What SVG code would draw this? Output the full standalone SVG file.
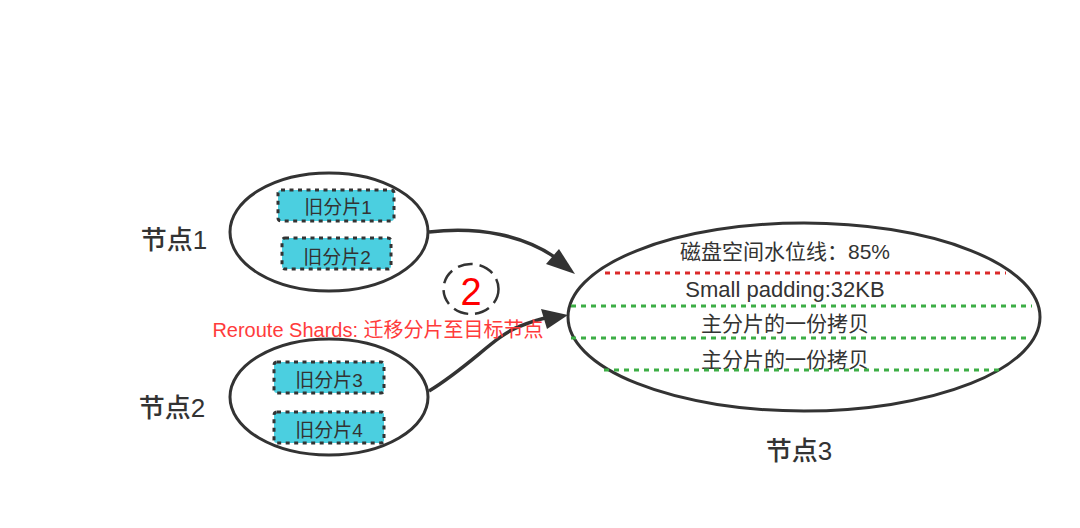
<svg xmlns="http://www.w3.org/2000/svg" width="1080" height="528" viewBox="0 0 1080 528">
<style>
text{font-family:"Liberation Sans","Noto Sans CJK SC",sans-serif;fill:#333;text-anchor:middle}
.ell{fill:#fff;stroke:#333;stroke-width:3}
.shard{fill:#4bcfe0;stroke:#333;stroke-width:3;stroke-dasharray:4 4.5}
.s{font-size:19px}
.n{font-size:26px;font-weight:500}
.l{font-size:21px}
.conn{fill:none;stroke:#333;stroke-width:3.5}
.ah{fill:#333}
.g{stroke:#3cae45;stroke-width:3;stroke-dasharray:5 5;fill:none}
.r{stroke:#dc2a2a;stroke-width:3;stroke-dasharray:5 5;fill:none}
</style>
<rect width="1080" height="528" fill="#fff"/>
<g id="node1">
<ellipse class="ell" cx="329" cy="232" rx="99" ry="59"/>
<rect class="shard" x="278" y="190" width="116" height="31" rx="3"/>
<text class="s" x="338" y="214">旧分片1</text>
<rect class="shard" x="282" y="238" width="109" height="31" rx="3"/>
<text class="s" x="337" y="264">旧分片2</text>
<text class="n" x="174" y="249">节点1</text>
</g>
<g id="node2">
<ellipse class="ell" cx="329" cy="397" rx="99" ry="58"/>
<rect class="shard" x="274" y="362" width="110" height="31" rx="3"/>
<text class="s" x="329" y="387">旧分片3</text>
<rect class="shard" x="274" y="412" width="110" height="31" rx="3"/>
<text class="s" x="329" y="437">旧分片4</text>
<text class="n" x="172" y="417">节点2</text>
</g>
<g id="node3">
<ellipse class="ell" cx="804" cy="317" rx="236" ry="94"/>
<text class="l" x="785" y="259">磁盘空间水位线：85%</text>
<path class="r" d="M605 273H1006"/>
<text class="l" x="785" y="297" style="font-size:22px">Small padding:32KB</text>
<path class="g" d="M571 306H1032"/>
<text class="l" x="785" y="331">主分片的一份拷贝</text>
<path class="g" d="M571 338H1030"/>
<text class="l" x="785" y="367">主分片的一份拷贝</text>
<path class="g" d="M604 370H1002"/>
<text class="n" x="799" y="460">节点3</text>
</g>
<g id="badge">
<ellipse cx="471" cy="289" rx="27.5" ry="25" fill="#fff" stroke="#333" stroke-width="2.5" stroke-dasharray="15 7"/>
<text x="471" y="305" font-size="38" style="fill:#f00">2</text>
</g>
<g id="connectors">
<path class="conn" d="M429 232C480 226 525 236 556 258"/>
<path class="ah" d="M575 274L546 264L559 249Z"/>
<path class="conn" d="M429 391C470 366 495 336 518 327C530 322 540 319 550 317"/>
<path class="ah" d="M568 315L541 309L547 329Z"/>
</g>
<text x="378" y="337" font-size="20" style="fill:#ff3b3b">Reroute Shards: 迁移分片至目标节点</text>
</svg>
